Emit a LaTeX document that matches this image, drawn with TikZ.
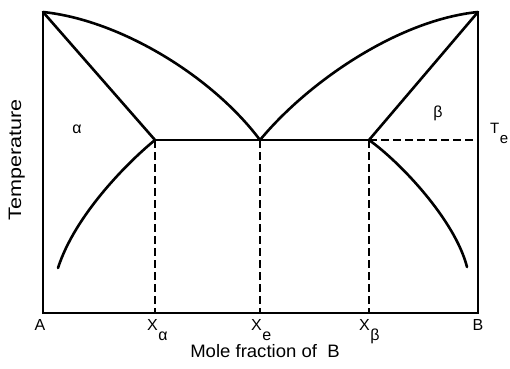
\documentclass[tikz,border=0pt]{standalone}
\usepackage{fontspec}
\setmainfont{Liberation Sans}
\newcommand{\subx}[1]{\kern0.5pt\raisebox{-10pt}{#1}}
\begin{document}
\begin{tikzpicture}[x=1pt,y=-1pt,
  curve/.style={line width=2.6pt,line cap=round,line join=round},
  axis/.style={line width=2.2pt,line cap=rect},
  dashline/.style={line width=1.5pt,dash pattern=on 8pt off 4pt},
  lab/.style={font=\fontsize{16}{16}\selectfont,inner sep=0pt}]
\useasboundingbox (0,0) rectangle (510,368);
% key points
\coordinate (TA) at (43,12);
\coordinate (TB) at (478,12);
\coordinate (O) at (43,313);
\coordinate (BB) at (478,313);
\coordinate (Pa) at (155,140);
\coordinate (Pe) at (260,140);
\coordinate (Pb) at (369,140);
\coordinate (Ra) at (478,140);
\coordinate (Ba) at (155,313);
\coordinate (Be) at (260,313);
\coordinate (Bb) at (369,313);
\coordinate (Sa) at (58,268);
\coordinate (Sb) at (467,267);
% axes
\draw[axis] (TA) -- (O) -- (BB) -- (TB);
% dashed lines
\draw[dashline] (Pa) -- (Ba);
\draw[dashline] (Pe) -- (Be);
\draw[dashline] (Pb) -- (Bb);
\draw[dashline] (Pb) -- (Ra);
% eutectic line
\draw[curve] (Pa) -- (Pb);
% liquidus
\draw[curve] (TA) .. controls (120,20) and (212,76) .. (Pe);
\draw[curve] (Pe) .. controls (308,82) and (398,20) .. (TB);
% solidus
\draw[curve] (TA) -- (Pa);
\draw[curve] (TB) -- (Pb);
% solvus
\draw[curve] (Pa) .. controls (128,162) and (75,215) .. (Sa);
\draw[curve] (Pb) .. controls (400,162) and (455,220) .. (Sb);
% labels
\node[lab] (alpha) at (77,129) {α};
\node[lab] (beta) at (438,113) {β};
\node[lab,anchor=base west,font=\fontsize{15}{15}\selectfont] (Te) at (490,133) {T\subx{e}};
\node[lab,anchor=base] (A) at (40,330) {A};
\node[lab,anchor=base] (B) at (478,330) {B};
\node[lab,anchor=base west] (Xa) at (147,330) {X\subx{α}};
\node[lab,anchor=base west] (Xe) at (251,330) {X\subx{e}};
\node[lab,anchor=base west] (Xb) at (359,330) {X\subx{β}};
\node[lab,anchor=base,font=\fontsize{18}{18}\selectfont] (xlab) at (265,357) {\scalebox{1.03}[1]{Mole fraction of\ \ B}};
\node[lab,anchor=base,rotate=90,font=\fontsize{18}{18}\selectfont] (ylab) at (21,160) {\scalebox{1.2}[1]{Temperature}};
\end{tikzpicture}
\end{document}
